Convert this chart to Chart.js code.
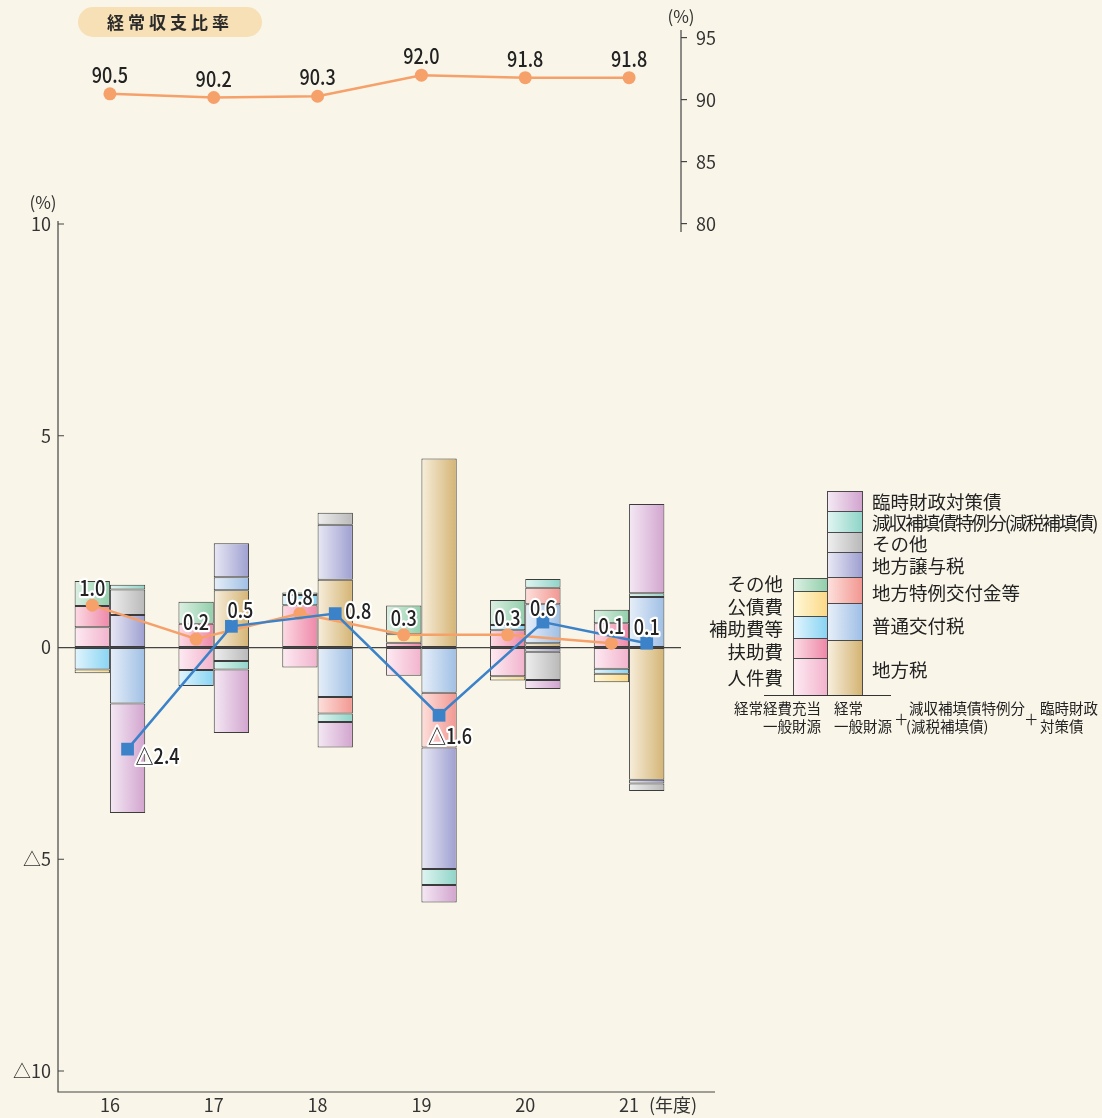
<!DOCTYPE html>
<html lang="ja">
<head>
<meta charset="utf-8">
<title>経常収支比率</title>
<script src="https://cdn.jsdelivr.net/npm/chart.js@4.4.0/dist/chart.umd.min.js"></script>
<style>
  body { margin: 0; background: #f9f6e9; }
  #wrap { position: relative; width: 1102px; height: 1118px; font-family: 'Noto Sans CJK JP', sans-serif; color: #222; }
  #chart { position: absolute; left: 0; top: 0; }
  .badge { position: absolute; left: 78px; top: 7px; width: 184px; height: 30px; border-radius: 15px;
           background: #f7e0b5; font-size: 17px; font-weight: bold; letter-spacing: 4px; text-align: center;
           line-height: 30px; color: #2a2a2a; }
  .lg { position: absolute; line-height: 1; white-space: nowrap; transform: translateY(-50%); font-size: 18.5px; }
  .lg.r { transform: translate(-100%, -50%); }
  .lg.tight { letter-spacing: -1.9px; }
  .sm { font-size: 14.5px; }
  .seg { position: absolute; box-sizing: border-box; border: 1px solid #4a4a4a; }
  .base { position: absolute; left: 764px; top: 695px; width: 127px; height: 0; border-top: 1.3px solid #333; }
</style>
</head>
<body>
<div id="wrap">
  <canvas id="chart" width="1102" height="1118"></canvas>
  <div class="badge">経常収支比率</div>

  <div id="legendBars"></div>
  <div class="base"></div>

  <span class="lg" style="left:872px; top:501px">臨時財政対策債</span>
  <span class="lg tight" style="left:872px; top:522px">減収補填債特例分(減税補填債)</span>
  <span class="lg" style="left:872px; top:543px">その他</span>
  <span class="lg" style="left:872px; top:565px">地方譲与税</span>
  <span class="lg" style="left:872px; top:592px">地方特例交付金等</span>
  <span class="lg" style="left:872px; top:625px">普通交付税</span>
  <span class="lg" style="left:872px; top:669px">地方税</span>

  <span class="lg r" style="left:783px; top:583px">その他</span>
  <span class="lg r" style="left:783px; top:606px">公債費</span>
  <span class="lg r" style="left:783px; top:628px">補助費等</span>
  <span class="lg r" style="left:783px; top:651px">扶助費</span>
  <span class="lg r" style="left:783px; top:677px">人件費</span>

  <span class="lg r sm" style="left:821px; top:708px">経常経費充当</span>
  <span class="lg r sm" style="left:821px; top:726px">一般財源</span>
  <span class="lg sm" style="left:834px; top:708px">経常</span>
  <span class="lg sm" style="left:834px; top:726px">一般財源</span>
  <span class="lg sm" style="left:894px; top:719px">＋</span>
  <span class="lg sm" style="left:909px; top:708px">減収補填債特例分</span>
  <span class="lg sm" style="left:906px; top:726px">(減税補填債)</span>
  <span class="lg sm" style="left:1024px; top:719px">＋</span>
  <span class="lg sm" style="left:1040px; top:708px">臨時財政</span>
  <span class="lg sm" style="left:1040px; top:726px">対策債</span>
</div>

<script>
  // fiscal years (平成)
  const years = ['16', '17', '18', '19', '20', '21'];

  // 経常経費充当一般財源: contribution by expenditure item (%)
  const personnel  = [0.48, -0.53, -0.47, -0.67, -0.68, -0.50];  // 人件費
  const assistance = [0.50, 0.56, 1.00, 0.11, 0.41, 0.57];       // 扶助費
  const subsidies  = [-0.52, -0.38, 0.24, null, 0.12, -0.12];    // 補助費等
  const debtCost   = [-0.09, null, null, 0.20, -0.10, -0.20];    // 公債費
  const otherExp   = [0.59, 0.52, 0.06, 0.68, 0.59, 0.32];       // その他

  // 経常一般財源 + 減収補填債特例分 + 臨時財政対策債: contribution by revenue item (%)
  const localTax     = [null, 1.35, 1.60, 4.46, 0.10, -3.12];    // 地方税
  const allocTax     = [-1.32, 0.31, -1.17, -1.07, 0.92, 1.19];  // 普通交付税
  const specialGrant = [null, null, -0.39, -1.29, 0.39, null];   // 地方特例交付金等
  const transferTax  = [0.77, 0.80, 1.30, -2.87, -0.10, -0.09];  // 地方譲与税
  const otherRev     = [0.60, -0.32, 0.28, null, -0.67, -0.18];  // その他
  const reductionBond = [0.11, -0.20, -0.20, -0.38, 0.21, 0.09]; // 減収補填債特例分
  const tempBond     = [-2.59, -1.50, -0.60, -0.41, -0.21, 2.11]; // 臨時財政対策債

  // growth rates (%) and 経常収支比率 (%)
  const expenseGrowth = [1.0, 0.2, 0.8, 0.3, 0.3, 0.1];
  const revenueGrowth = [-2.4, 0.5, 0.8, -1.6, 0.6, 0.1];
  const ratio = [90.5, 90.2, 90.3, 92.0, 91.8, 91.8];

  const lowerTicks = [10, 5, 0, -5, -10];
  const ratioTicks = [80, 85, 90, 95];

  const expenseSeries = [
    { label: '人件費', data: personnel, c: ['#fdebf2', '#f2b3cc'] },
    { label: '扶助費', data: assistance, c: ['#fcdbe5', '#ee88a8'] },
    { label: '補助費等', data: subsidies, c: ['#e2f5fd', '#88d4f3'] },
    { label: '公債費', data: debtCost, c: ['#fff8d8', '#fbd987'] },
    { label: 'その他', data: otherExp, c: ['#dcf0e3', '#92cfab'] }
  ];
  const revenueSeries = [
    { label: '地方税', data: localTax, c: ['#f7eedc', '#d4b474'] },
    { label: '普通交付税', data: allocTax, c: ['#e7eff9', '#9fbfe5'] },
    { label: '地方特例交付金等', data: specialGrant, c: ['#fde0dc', '#f29791'] },
    { label: '地方譲与税', data: transferTax, c: ['#e8e8f5', '#9e9fd0'] },
    { label: 'その他（歳入）', data: otherRev, c: ['#eeeeee', '#b9b9b9'] },
    { label: '減収補填債特例分', data: reductionBond, c: ['#e0f5f1', '#8fd4c8'] },
    { label: '臨時財政対策債', data: tempBond, c: ['#f4e9f4', '#d2a4cf'] }
  ];

  const FONT = "'Noto Sans CJK JP', 'Noto Sans', sans-serif";
  Chart.defaults.font.family = FONT;
  Chart.defaults.color = '#333';

  function fmt(v) {
    return v < 0 ? '△' + Math.abs(v).toFixed(1) : v.toFixed(1);
  }

  function barSet(s, stack) {
    return {
      type: 'bar', label: s.label, data: s.data, stack: stack, grad: s.c,
      backgroundColor: s.c[1], borderColor: '#3c3c3c', borderWidth: 1, borderSkipped: false,
      yAxisID: 'y', order: 3
    };
  }

  // horizontal light-to-dark gradient on every bar segment
  const gradientPlugin = {
    id: 'barGradient',
    afterDatasetsUpdate(chart) {
      const ctx = chart.ctx;
      chart.data.datasets.forEach((ds, i) => {
        if (!ds.grad) return;
        chart.getDatasetMeta(i).data.forEach(el => {
          const g = ctx.createLinearGradient(el.x - el.width / 2, 0, el.x + el.width / 2, 0);
          g.addColorStop(0, ds.grad[0]);
          g.addColorStop(1, ds.grad[1]);
          el.options = Object.assign({}, el.options, { backgroundColor: g });
        });
      });
    }
  };

  // put the growth-rate points over the centre of their own bar
  const alignPlugin = {
    id: 'alignLines',
    afterDatasetsUpdate(chart) {
      chart.data.datasets.forEach((ds, i) => {
        if (!ds.alignTo) return;
        const refIdx = chart.data.datasets.findIndex(d => d.label === ds.alignTo);
        const ref = chart.getDatasetMeta(refIdx).data;
        chart.getDatasetMeta(i).data.forEach((pt, j) => { pt.x = ref[j].x; });
      });
    }
  };

  const blueLabelOffsets = [[30, 7], [9, -16], [23, -3], [11, 21], [0, -14], [0, -16]];

  const labelPlugin = {
    id: 'pointLabels',
    afterDatasetsDraw(chart) {
      const ctx = chart.ctx;
      chart.data.datasets.forEach((ds, i) => {
        if (!ds.pointLabels) return;
        chart.getDatasetMeta(i).data.forEach((pt, j) => {
          const off = ds.pointLabels === 'blue' ? blueLabelOffsets[j] : [0, ds.pointLabels === 'ratio' ? -19 : -17];
          const txt = fmt(ds.data[j]);
          ctx.save();
          ctx.translate(pt.x + off[0], pt.y + off[1]);
          ctx.scale(0.86, 1);
          ctx.font = '500 21px ' + FONT;
          ctx.textAlign = 'center';
          ctx.textBaseline = 'middle';
          ctx.lineJoin = 'round';
          if (ds.pointLabels !== 'ratio') {
            ctx.strokeStyle = '#fff';
            ctx.lineWidth = 4.5;
            ctx.strokeText(txt, 0, 0);
          }
          ctx.fillStyle = '#222';
          ctx.fillText(txt, 0, 0);
          ctx.restore();
        });
      });
    }
  };

  const axisPlugin = {
    id: 'axisDecor',
    afterDraw(chart) {
      const { ctx, chartArea, scales } = chart;
      const y = scales.y, y2 = scales.y2, x = scales.x;
      ctx.save();
      ctx.strokeStyle = '#444';
      ctx.lineWidth = 1.2;
      ctx.beginPath();
      ctx.moveTo(chartArea.left, y.getPixelForValue(10) - 3);
      ctx.lineTo(chartArea.left, chartArea.bottom);
      ctx.lineTo(chartArea.right + 34, chartArea.bottom);
      lowerTicks.forEach(v => {
        const py = y.getPixelForValue(v);
        ctx.moveTo(chartArea.left, py);
        ctx.lineTo(chartArea.left + 6, py);
      });
      ctx.moveTo(chartArea.right, y2.getPixelForValue(95) - 8);
      ctx.lineTo(chartArea.right, y2.getPixelForValue(80) + 8);
      ctx.stroke();

      ctx.fillStyle = '#333';
      ctx.font = '17px ' + FONT;
      ctx.textAlign = 'center';
      ctx.textBaseline = 'middle';
      ctx.fillText('(%)', chartArea.left - 15, y.getPixelForValue(10) - 21);
      ctx.fillText('(%)', chartArea.right, y2.getPixelForValue(95) - 21);
      ctx.font = '18px ' + FONT;
      ctx.fillText('(年度)', x.getPixelForValue(5) + 44, chartArea.bottom + 13);
      ctx.restore();
    }
  };

  const datasets = [
    {
      type: 'line', label: '経常収支比率', data: ratio, yAxisID: 'y2', order: 0,
      borderColor: '#f6a06a', backgroundColor: '#f6a06a', borderWidth: 2.5,
      pointRadius: 6.5, pointBorderWidth: 0, pointLabels: 'ratio'
    },
    {
      type: 'line', label: '経常一般財源等の伸び', data: revenueGrowth, yAxisID: 'y', stack: 'lineRev', order: 1,
      borderColor: '#3b82c8', backgroundColor: '#3b82c8', borderWidth: 2.5,
      pointStyle: 'rect', pointRadius: 9, pointBorderWidth: 0, alignTo: '地方税', pointLabels: 'blue'
    },
    {
      type: 'line', label: '経常経費充当一般財源の伸び', data: expenseGrowth, yAxisID: 'y', stack: 'lineExp', order: 2,
      borderColor: '#f6a06a', backgroundColor: '#f6a06a', borderWidth: 2.5,
      pointRadius: 6.5, pointBorderWidth: 0, alignTo: '人件費', pointLabels: 'orange'
    }
  ]
    .concat(expenseSeries.map(s => barSet(s, 'expense')))
    .concat(revenueSeries.map(s => barSet(s, 'revenue')));

  // pixel scale: 10..-10 spans 224..1071, chart area 30..1092
  new Chart(document.getElementById('chart'), {
    data: { labels: years, datasets: datasets },
    options: {
      responsive: false,
      animation: false,
      events: [],
      layout: { padding: { top: 30, left: 0, right: 0, bottom: 0 } },
      plugins: { legend: { display: false }, tooltip: { enabled: false } },
      datasets: { bar: { categoryPercentage: 0.68, barPercentage: 1.0 } },
      scales: {
        x: {
          stacked: true,
          grid: { display: false },
          border: { display: false },
          ticks: { font: { size: 18, lineHeight: 1 }, color: '#333', padding: -4 },
          afterFit: s => { s.height = 26; }
        },
        y: {
          stacked: true,
          min: -10.496, max: 14.581,
          afterBuildTicks: s => { s.ticks = lowerTicks.map(v => ({ value: v })); },
          ticks: { callback: v => v < 0 ? '△' + Math.abs(v) : v, font: { size: 18 }, color: '#333', padding: 7 },
          grid: {
            drawTicks: false,
            color: c => c.tick && c.tick.value === 0 ? '#444' : 'rgba(0,0,0,0)',
            lineWidth: 1.2
          },
          border: { display: false },
          afterFit: s => { s.width = 58; }
        },
        y2: {
          position: 'right',
          min: 10, max: 95.645,
          afterBuildTicks: s => { s.ticks = ratioTicks.map(v => ({ value: v })); },
          ticks: { font: { size: 18 }, color: '#333', padding: 9 },
          grid: { drawOnChartArea: false, drawTicks: true, tickLength: 6, color: '#444', lineWidth: 1.2 },
          border: { display: false },
          afterFit: s => { s.width = 421; }
        }
      }
    },
    plugins: [gradientPlugin, alignPlugin, labelPlugin, axisPlugin]
  });

  // small stacked key on the right, built from the same colour list
  const legendBars = document.getElementById('legendBars');
  function keyColumn(series, left, width, heights) {
    let bottom = 695;
    series.forEach((s, i) => {
      const d = document.createElement('div');
      d.className = 'seg';
      d.style.left = left + 'px';
      d.style.width = width + 'px';
      d.style.top = (bottom - heights[i]) + 'px';
      d.style.height = (heights[i] + 1) + 'px';
      d.style.background = 'linear-gradient(to right, ' + s.c[0] + ', ' + s.c[1] + ')';
      legendBars.appendChild(d);
      bottom -= heights[i];
    });
  }
  keyColumn(expenseSeries, 793, 35, [37, 20, 22, 25, 13]);
  keyColumn(revenueSeries, 827, 36, [55, 37, 26, 25, 20, 21, 20]);
</script>
</body>
</html>
